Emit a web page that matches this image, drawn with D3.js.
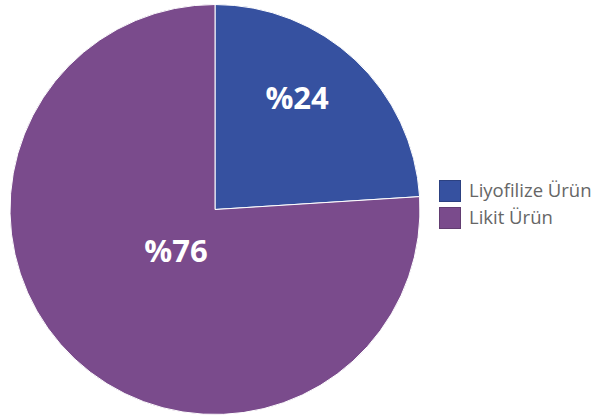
<!DOCTYPE html>
<html>
<head>
<meta charset="utf-8">
<script src="https://cdn.jsdelivr.net/npm/d3@7"></script>
<style>
  body { margin: 0; background: #fff; }
  svg { display: block; }
</style>
</head>
<body>
<div id="chart"></div>
<script>
const categories = ['Liyofilize Ürün', 'Likit Ürün'];
const values = [24, 76];
const labels = ['%24', '%76'];
const colors = ['#3651a0', '#7a4b8c'];

const width = 606, height = 417;
const cx = 215, cy = 209.5, radius = 205;

const svg = d3.select('#chart').append('svg')
    .attr('width', width)
    .attr('height', height);

const pie = d3.pie().sort(null).value((d) => d);
const arcs = pie(values);
const arc = d3.arc().innerRadius(0).outerRadius(radius);

const g = svg.append('g').attr('transform', 'translate(' + cx + ',' + cy + ')');

g.selectAll('path.slice')
    .data(arcs)
    .enter()
    .append('path')
    .attr('class', 'slice')
    .attr('d', arc)
    .attr('fill', (d, i) => colors[i])
    .attr('stroke', '#fff')
    .attr('stroke-width', 1);

// label placement: angle offset (deg) and distance from centre per slice
const labelRadius = [139, 57];
const labelShift = [-7, 0];
g.selectAll('text.lbl')
    .data(arcs)
    .enter()
    .append('text')
    .attr('class', 'lbl')
    .attr('transform', (d, i) => {
        const a = (d.startAngle + d.endAngle) / 2 + labelShift[i] * Math.PI / 180;
        const x = Math.sin(a) * labelRadius[i];
        const y = -Math.cos(a) * labelRadius[i];
        return 'translate(' + x + ',' + y + ')';
    })
    .attr('text-anchor', 'middle')
    .attr('dy', '0.36em')
    .attr('fill', '#fff')
    .style('font-family', '"Open Sans", "DejaVu Sans", sans-serif')
    .style('font-weight', 'bold')
    .style('font-size', '31px')
    .text((d, i) => labels[i]);

const legend = svg.append('g').attr('transform', 'translate(439,180)');
const item = legend.selectAll('g.item')
    .data(categories)
    .enter()
    .append('g')
    .attr('class', 'item')
    .attr('transform', (d, i) => 'translate(0,' + i * 27 + ')');

item.append('rect')
    .attr('x', 0.5)
    .attr('y', 0.5)
    .attr('width', 21)
    .attr('height', 21)
    .attr('fill', (d, i) => colors[i])
    .attr('stroke', (d, i) => d3.color(colors[i]).darker(0.6))
    .attr('stroke-width', 1);

item.append('text')
    .attr('x', 30)
    .attr('y', 11)
    .attr('dy', '0.35em')
    .attr('fill', '#666')
    .style('font-family', '"Open Sans", "DejaVu Sans", sans-serif')
    .style('font-size', '18.5px')
    .text((d) => d);
</script>
</body>
</html>
